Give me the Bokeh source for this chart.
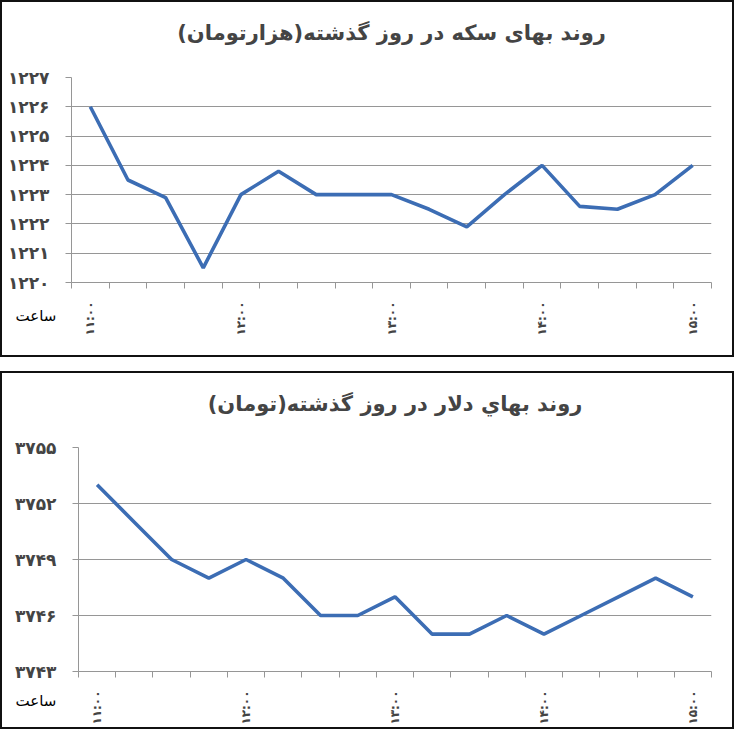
import numpy as np
from bokeh.plotting import figure
from bokeh.models import FixedTicker, Range1d, Title
from bokeh.layouts import column
from bokeh.embed import file_html
from bokeh.resources import INLINE

# ------------------------ data (15 minute steps, 11:00 .. 15:00)
coin_title = 'روند بهای سکه در روز گذشته(هزارتومان)'
coin_values = [1226.0, 1223.5, 1222.9, 1220.5, 1223.0, 1223.8, 1223.0, 1223.0, 1223.0,
               1222.5, 1221.9, 1223.0, 1224.0, 1222.6, 1222.5, 1223.0, 1224.0]
coin_yticks = [1220, 1221, 1222, 1223, 1224, 1225, 1226, 1227]

dollar_title = 'روند بهاي دلار در روز گذشته(تومان)'
dollar_values = [3753, 3751, 3749, 3748, 3749, 3748, 3746, 3746, 3747,
                 3745, 3745, 3746, 3745, 3746, 3747, 3748, 3747]
dollar_yticks = [3743, 3746, 3749, 3752, 3755]

time_index = [0, 4, 8, 12, 16]
time_labels = ['۱۱:۰۰', '۱۲:۰۰', '۱۳:۰۰', '۱۴:۰۰', '۱۵:۰۰']
x_caption = 'ساعت'

color_line = '#3c6db4'
color_grid = '#969696'
FONT = 'DejaVu Sans'
fa_digits = str.maketrans('0123456789', '۰۱۲۳۴۵۶۷۸۹')


def make_chart(title, values, yticks, height, top, bottom, left, title_standoff, caption_standoff, caption_offset):
    ############################################################
    n = len(values)
    W, right = 730, 21
    p = figure(width=W, height=height, output_backend='svg', toolbar_location=None,
               x_range=Range1d(-0.5, n - 0.5), y_range=Range1d(yticks[0], yticks[-1]),
               min_border_left=left, min_border_right=right, min_border_top=top, min_border_bottom=bottom)
    p.title.text = title + '\n'    # empty second line keeps the title high above the frame
    p.title.align = 'center'
    p.title.vertical_align = 'top'
    p.title.text_font = FONT
    p.title.text_font_size = '21px'
    p.title.text_font_style = 'bold'
    p.title.standoff = title_standoff
    p.outline_line_color = None
    p.background_fill_color = 'white'
    p.border_fill_color = 'white'
    # ------------------------
    p.line(np.arange(n), values, line_width=3.6, color=color_line)
    # ------------------------ y axis
    p.yaxis.ticker = FixedTicker(ticks=yticks)
    p.yaxis.major_label_overrides = {v: str(v).translate(fa_digits) for v in yticks}
    p.yaxis.major_label_text_font = FONT
    p.yaxis.major_label_text_font_size = '17px'
    p.yaxis.major_label_text_font_style = 'bold'
    p.yaxis.major_label_standoff = 16
    p.yaxis.major_tick_out = 6
    p.yaxis.major_tick_in = 0
    p.yaxis.minor_tick_line_color = None
    p.yaxis.axis_line_color = color_grid
    p.yaxis.major_tick_line_color = color_grid
    # ------------------------ x axis: ticks between categories, labels on them
    p.xaxis.ticker = FixedTicker(ticks=time_index, minor_ticks=[i - 0.5 for i in range(n + 1)])
    p.xaxis.major_label_overrides = dict(zip(time_index, time_labels))
    p.xaxis.major_label_orientation = np.pi / 2
    p.xaxis.major_label_text_font = FONT
    p.xaxis.major_label_text_font_size = '12px'
    p.xaxis.major_label_text_font_style = 'bold'
    p.xaxis.major_label_standoff = 13
    p.xaxis.major_tick_out = 0
    p.xaxis.major_tick_in = 0
    p.xaxis.minor_tick_out = 6
    p.xaxis.minor_tick_in = 0
    p.xaxis.axis_line_color = color_grid
    p.xaxis.minor_tick_line_color = color_grid
    # ------------------------ grid
    p.xgrid.visible = False
    p.ygrid.grid_line_color = color_grid
    p.ygrid.grid_line_width = 1.2
    # ------------------------ caption left of the time labels
    cap = Title(text=x_caption, align='left', vertical_align='top', offset=caption_offset,
                standoff=caption_standoff, text_font=FONT, text_font_size='15px',
                text_font_style='normal', text_color='black')
    p.add_layout(cap, 'below')
    ############################################################
    return p


p1 = make_chart(coin_title, coin_values, coin_yticks, 353, 75, 73, 69, 14, -64, -56)
p2 = make_chart(dollar_title, dollar_values, dollar_yticks, 354, 74, 54, 76, 12, -72, -63)
box = {'border': '2px solid #111'}
p = column(column(p1, styles=box), column(p2, styles=box), spacing=14)

open('out.html', 'w').write(file_html(p, INLINE))
